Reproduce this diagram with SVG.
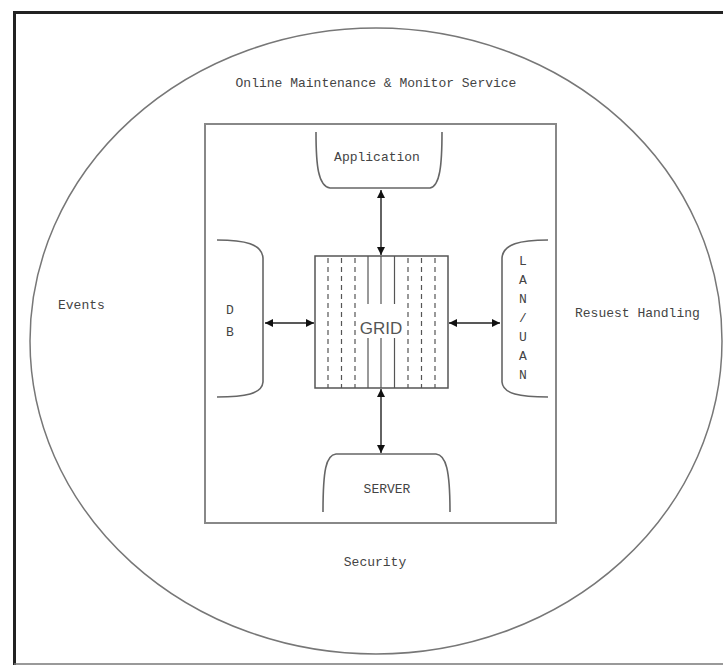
<svg xmlns="http://www.w3.org/2000/svg" width="723" height="665" viewBox="0 0 723 665">
<defs>
<style>
.lbl{font-family:"Liberation Mono","DejaVu Sans Mono",monospace;font-size:13px;fill:#444;}
.mid{text-anchor:middle;}
.shape{fill:none;stroke:#666;stroke-width:1.6;}
.conn{fill:none;stroke:#222;stroke-width:1.4;}
.gl{stroke:#555;stroke-width:1.2;}
.gd{stroke:#555;stroke-width:1.2;stroke-dasharray:5,4;}
</style>
<marker id="arr" viewBox="0 0 10 10" refX="10" refY="5" markerWidth="9" markerHeight="8" markerUnits="userSpaceOnUse" orient="auto-start-reverse">
<path d="M0,0 L10,5 L0,10 Z" fill="#111"/>
</marker>
</defs>
<rect x="0" y="0" width="723" height="665" fill="#ffffff"/>
<g id="frame">
<path d="M14.5,665 L14.5,12.5 L723,12.5" fill="none" stroke="#222" stroke-width="3"/>
<line x1="14" y1="664" x2="723" y2="664" stroke="#777" stroke-width="1.5"/>
</g>
<g id="outer">
<ellipse cx="376" cy="341" rx="346" ry="313" fill="none" stroke="#777" stroke-width="1.5"/>
<text class="lbl mid" x="376" y="87">Online Maintenance &amp; Monitor Service</text>
<text class="lbl" x="58" y="309">Events</text>
<text class="lbl" x="575" y="317">Resuest Handling</text>
<text class="lbl mid" x="375" y="566">Security</text>
</g>
<g id="system">
<rect x="205" y="124" width="351" height="399" fill="none" stroke="#888" stroke-width="2"/>
</g>
<g id="application">
<path class="shape" d="M316,132 C316,165 318,186 330,188 L430,188 C440,186 442,165 442,132"/>
<text class="lbl mid" x="377" y="161">Application</text>
</g>
<g id="db">
<path class="shape" d="M217,240 C245,240 262,244 263,258 L263,382 C262,394 245,397 217,397"/>
<text class="lbl mid" x="230" y="314">D</text>
<text class="lbl mid" x="230" y="336">B</text>
</g>
<g id="lanwan">
<path class="shape" d="M548,240 C520,240 503,244 502,258 L502,382 C503,394 520,397 548,397"/>
<text class="lbl mid" x="523" y="265">L</text>
<text class="lbl mid" x="523" y="284">A</text>
<text class="lbl mid" x="523" y="303">N</text>
<text class="lbl mid" x="523" y="322">/</text>
<text class="lbl mid" x="523" y="341">U</text>
<text class="lbl mid" x="523" y="360">A</text>
<text class="lbl mid" x="523" y="379">N</text>
</g>
<g id="server">
<path class="shape" d="M323,512 C323,470 326,455 336,454 L436,454 C446,455 450,470 450,512"/>
<text class="lbl mid" x="387" y="493">SERVER</text>
</g>
<g id="grid">
<rect x="315" y="256" width="133" height="132" fill="none" stroke="#555" stroke-width="1.5"/>
<line class="gd" x1="328" y1="258" x2="328" y2="388"/>
<line class="gd" x1="341.5" y1="258" x2="341.5" y2="388"/>
<line class="gd" x1="355" y1="258" x2="355" y2="388"/>
<line class="gl" x1="368" y1="256" x2="368" y2="304"/>
<line class="gl" x1="368" y1="338" x2="368" y2="388"/>
<line class="gl" x1="381" y1="256" x2="381" y2="304"/>
<line class="gl" x1="381" y1="338" x2="381" y2="388"/>
<line class="gl" x1="394.5" y1="256" x2="394.5" y2="304"/>
<line class="gl" x1="394.5" y1="338" x2="394.5" y2="388"/>
<line class="gd" x1="408" y1="258" x2="408" y2="388"/>
<line class="gd" x1="421.5" y1="258" x2="421.5" y2="388"/>
<line class="gd" x1="435" y1="258" x2="435" y2="388"/>
<text x="381" y="334" text-anchor="middle" font-family="Liberation Sans, Arial, sans-serif" font-size="17" fill="#555">GRID</text>
</g>
<g id="connectors">
<line class="conn" x1="381" y1="190" x2="381" y2="255" marker-start="url(#arr)" marker-end="url(#arr)"/>
<line class="conn" x1="265" y1="323" x2="314" y2="323" marker-start="url(#arr)" marker-end="url(#arr)"/>
<line class="conn" x1="449" y1="323" x2="500" y2="323" marker-start="url(#arr)" marker-end="url(#arr)"/>
<line class="conn" x1="381" y1="389" x2="381" y2="453" marker-start="url(#arr)" marker-end="url(#arr)"/>
</g>
</svg>
